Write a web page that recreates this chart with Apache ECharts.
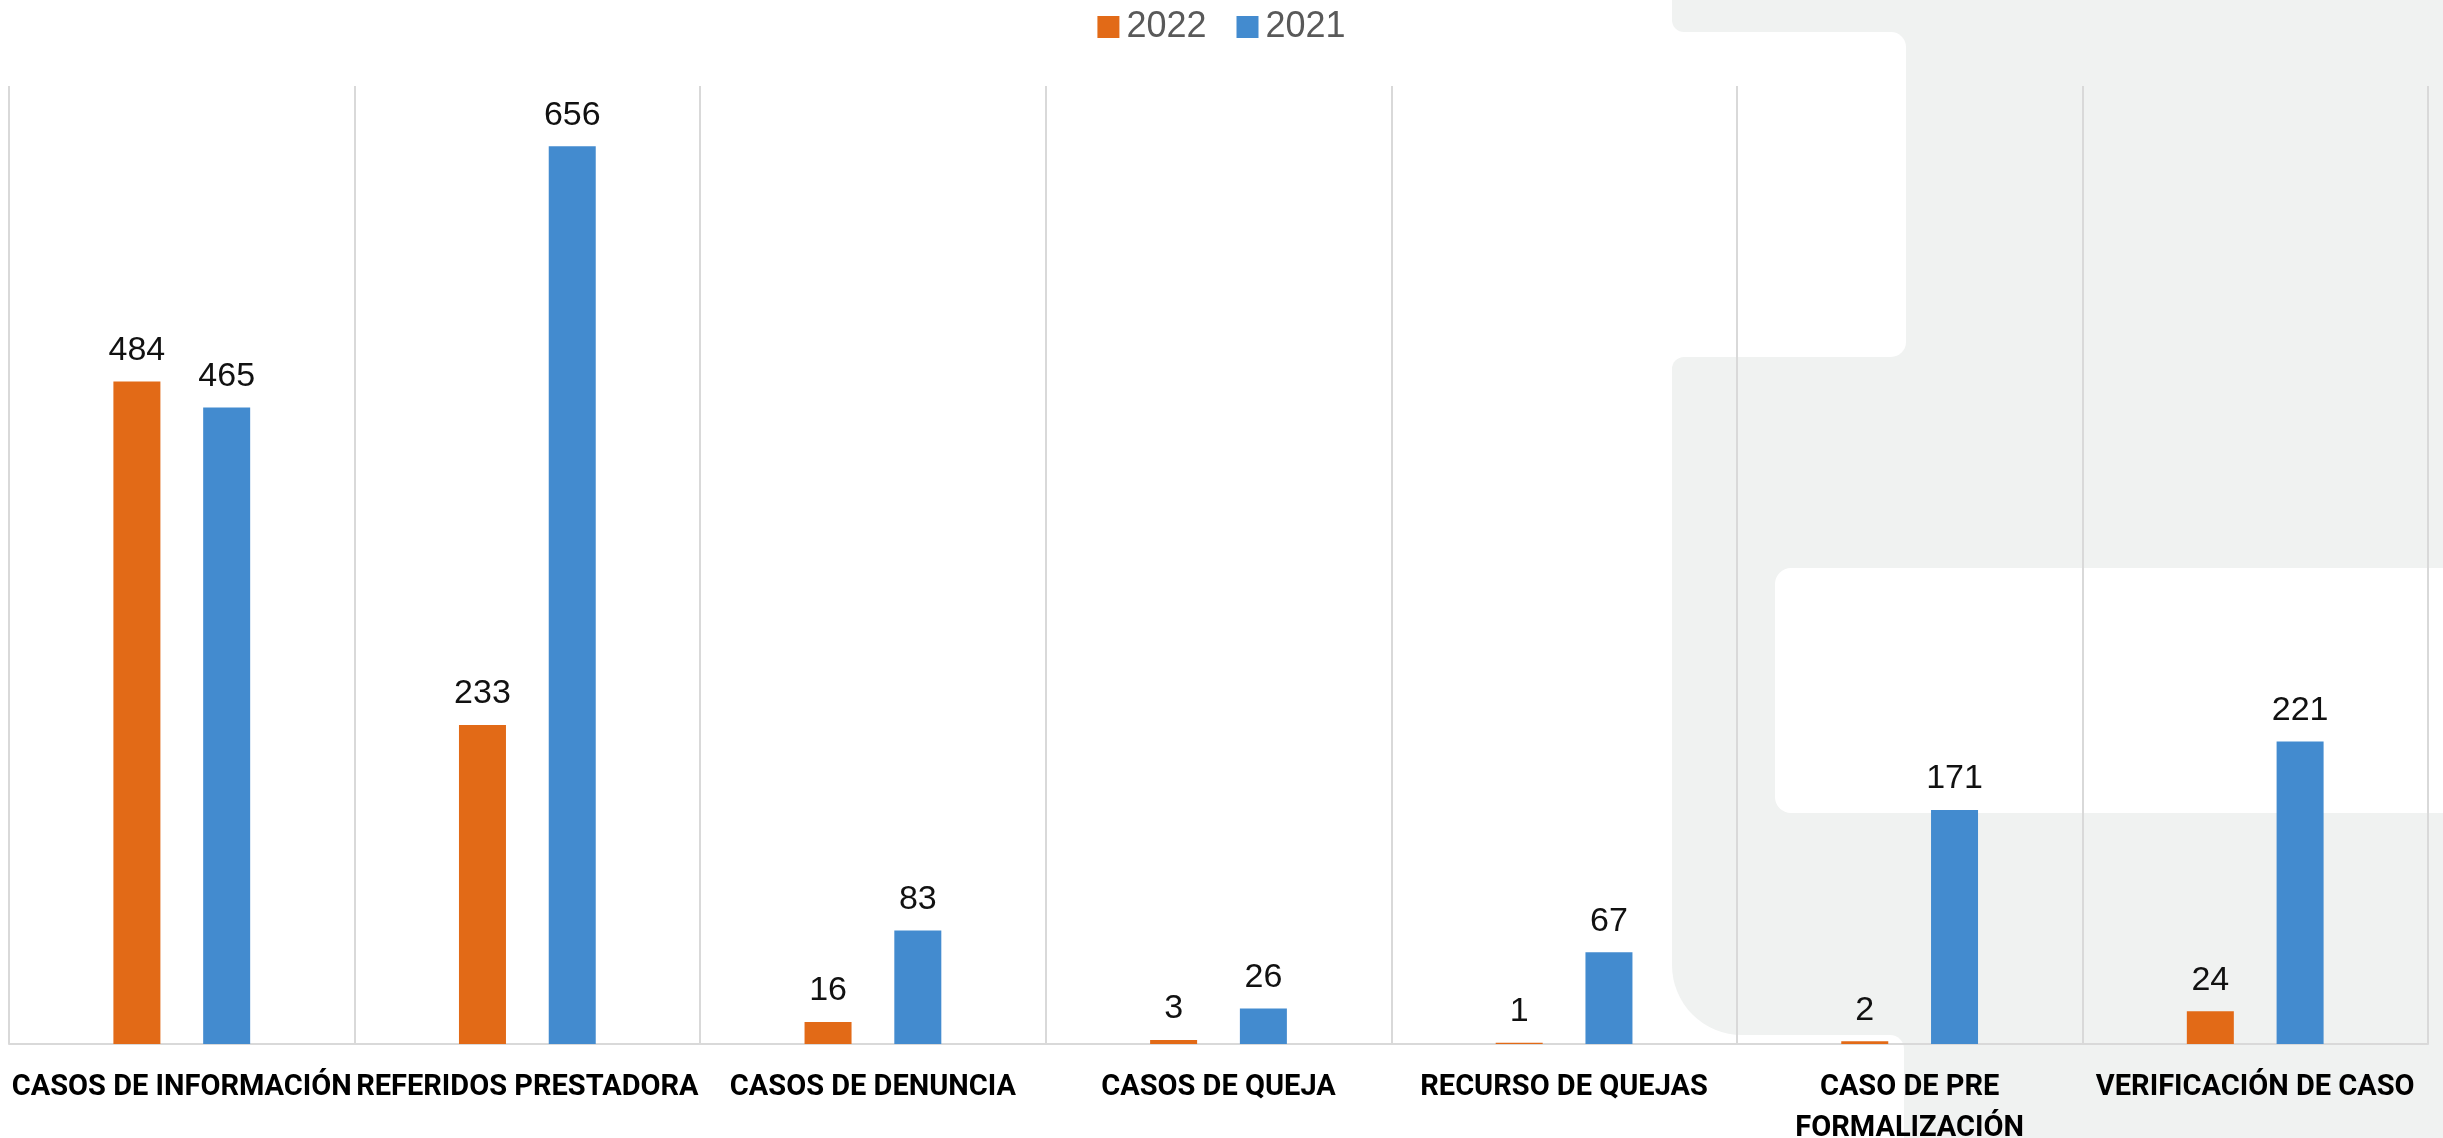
<!DOCTYPE html>
<html>
<head>
<meta charset="utf-8">
<script src="https://cdn.jsdelivr.net/npm/echarts@6/dist/echarts.min.js"></script>
<style>
html,body{margin:0;padding:0;background:#fff;}
#chart{width:2443px;height:1138px;}
</style>
</head>
<body>
<div id="chart"></div>
<script>
const categories = [
  'CASOS DE INFORMACIÓN',
  'REFERIDOS PRESTADORA',
  'CASOS DE DENUNCIA',
  'CASOS DE QUEJA',
  'RECURSO DE QUEJAS',
  'CASO DE PRE\nFORMALIZACIÓN',
  'VERIFICACIÓN DE CASO'
];
const seriesNames = ['2022', '2021'];
const values2022 = [484, 233, 16, 3, 1, 2, 24];
const values2021 = [465, 656, 83, 26, 67, 171, 221];

const GRAY = '#F0F2F1';
const chart = echarts.init(document.getElementById('chart'), null, {renderer: 'canvas'});

const labelStyle = {
  show: true,
  position: 'top',
  distance: 14,
  color: '#111111',
  fontSize: 34,
  fontFamily: 'Liberation Sans'
};

chart.setOption({
  animation: false,
  backgroundColor: '#ffffff',
  graphic: [
    {type: 'rect', z: -100, silent: true, shape: {x: 1672, y: 0, width: 771, height: 32, r: [0, 0, 0, 12]}, style: {fill: GRAY}},
    {type: 'rect', z: -100, silent: true, shape: {x: 1672, y: 357, width: 771, height: 678, r: [12, 0, 0, 70]}, style: {fill: GRAY}},
    {type: 'rect', z: -100, silent: true, shape: {x: 1880, y: 0, width: 563, height: 1138}, style: {fill: GRAY}},
    {type: 'rect', z: -99, silent: true, shape: {x: 1600, y: 32, width: 306, height: 325, r: [0, 15, 15, 0]}, style: {fill: '#ffffff'}},
    {type: 'rect', z: -99, silent: true, shape: {x: 1775, y: 568, width: 700, height: 245, r: 16}, style: {fill: '#ffffff'}},
    {type: 'rect', z: -99, silent: true, shape: {x: 1600, y: 1035, width: 304, height: 200, r: [0, 14, 0, 0]}, style: {fill: '#ffffff'}}
  ],
  legend: {
    top: 4,
    left: 'center',
    itemWidth: 22,
    itemHeight: 22,
    itemGap: 30,
    icon: 'rect',
    textStyle: {fontSize: 36, color: '#595959', fontFamily: 'Liberation Sans', padding: [0, 0, 0, 2]},
    data: seriesNames
  },
  grid: {left: 9, right: 15, top: 86, bottom: 94, containLabel: false, outerBoundsMode: 'none'},
  xAxis: {
    type: 'category',
    data: categories,
    axisLine: {show: true, lineStyle: {color: '#d9d9d9', width: 2}},
    axisTick: {show: false},
    splitLine: {show: true, lineStyle: {color: '#d9d9d9', width: 2}},
    axisLabel: {
      interval: 0,
      margin: 23,
      color: '#000000',
      fontWeight: 'bold',
      fontSize: 29,
      lineHeight: 41,
      hideOverlap: false,
      fontFamily: 'Roboto'
    }
  },
  yAxis: {
    type: 'value',
    min: 0,
    max: 700,
    interval: 100,
    show: false,
    splitLine: {show: false}
  },
  series: [
    {
      name: seriesNames[0],
      type: 'bar',
      data: values2022,
      barWidth: 47,
      barGap: '91%',
      itemStyle: {color: '#E26A17'},
      label: labelStyle
    },
    {
      name: seriesNames[1],
      type: 'bar',
      data: values2021,
      barWidth: 47,
      barGap: '91%',
      itemStyle: {color: '#438BCF'},
      label: labelStyle
    }
  ]
});
</script>
</body>
</html>
